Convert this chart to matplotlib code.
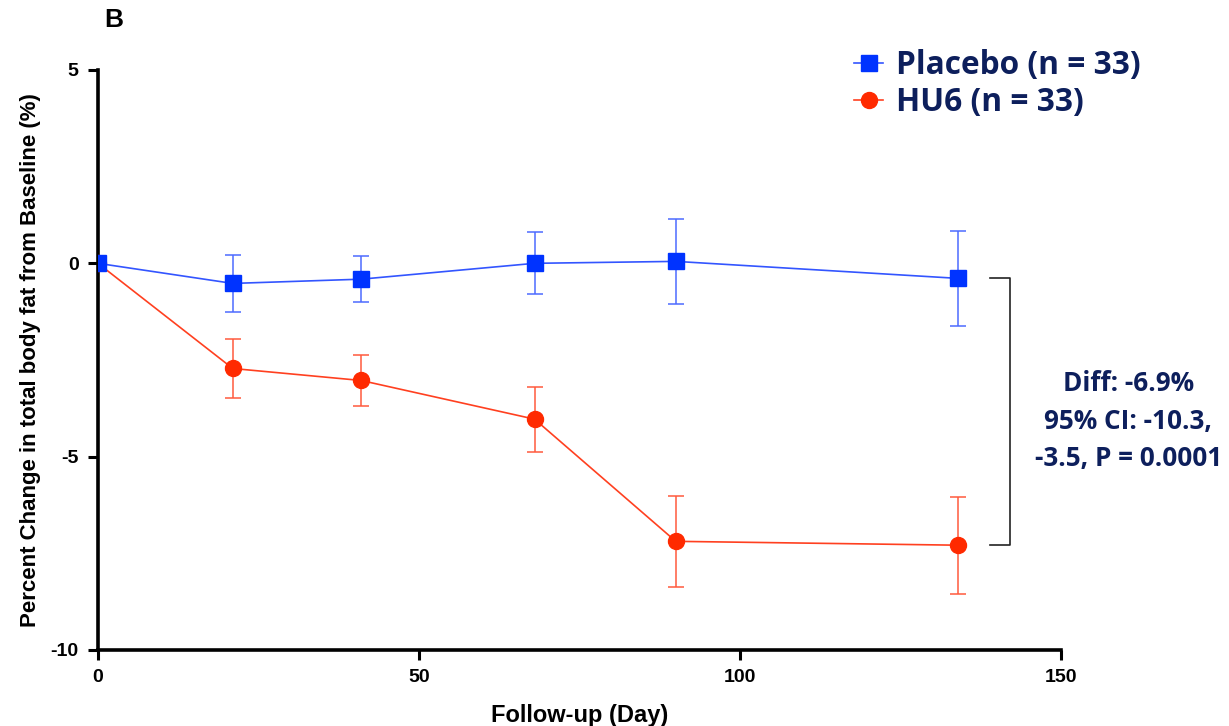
import numpy as np
import matplotlib.pyplot as plt
from matplotlib.lines import Line2D

# follow-up days
days = [0, 21, 41, 68, 90, 134]

# percent change in total body fat, mean and error
placebo_mean = [0.0, -0.52, -0.41, 0.0, 0.05, -0.39]
placebo_err = [0.0, 0.74, 0.60, 0.80, 1.10, 1.22]
hu6_mean = [0.0, -2.72, -3.03, -4.03, -7.19, -7.29]
hu6_err = [0.0, 0.76, 0.66, 0.84, 1.17, 1.25]

labels = ["Placebo (n = 33)", "HU6 (n = 33)"]
annot = "Diff: -6.9%\n95% CI: -10.3,\n-3.5, P = 0.0001"

blue = "#0033ff"
red = "#ff2a00"
navy = "#0d1f5c"
arial = "Liberation Sans"

fig = plt.figure(figsize=(12.29, 7.26), dpi=100)
ax = fig.add_axes([0.0797, 0.1047, 0.7836, 0.7989])

# error bars (drawn first so markers sit on top)
ax.errorbar(days, placebo_mean, yerr=placebo_err, fmt="none", ecolor="#4d6bff",
            elinewidth=1.1, capsize=5.8, capthick=1.1, zorder=2)
ax.errorbar(days, hu6_mean, yerr=hu6_err, fmt="none", ecolor="#ff5a3d",
            elinewidth=1.1, capsize=5.8, capthick=1.1, zorder=2)

ax.plot(days, hu6_mean, color="#ff4020", lw=1.2, marker="o", ms=11.5,
        mfc=red, mec=red, zorder=3)
ax.plot(days, placebo_mean, color="#3355ff", lw=1.2, marker="s", ms=11,
        mfc=blue, mec=blue, zorder=4)

ax.set_xlim(0, 150)
ax.set_ylim(-10, 5)
ax.set_xticks([0, 50, 100, 150])
ax.set_yticks([5, 0, -5, -10])
ax.set_yticklabels(["5", "0", "-5", "-10"])

for s in ["top", "right"]:
    ax.spines[s].set_visible(False)
for s in ["left", "bottom"]:
    ax.spines[s].set_linewidth(2.6)
ax.tick_params(width=2.2, length=7, labelsize=14, pad=7)
for t in ax.get_xticklabels() + ax.get_yticklabels():
    t.set_fontfamily(arial)
    t.set_fontweight("bold")

ax.set_xlabel("Follow-up (Day)", fontsize=17, fontweight="bold",
              fontfamily=arial, labelpad=13)
ax.set_ylabel("Percent Change in total body fat from Baseline (%)", fontsize=16,
              fontweight="bold", fontfamily=arial, labelpad=7)

# bracket between final values
bx0, bx1 = 139.0, 142.0
ax.plot([bx0, bx1, bx1, bx0], [placebo_mean[-1], placebo_mean[-1], hu6_mean[-1], hu6_mean[-1]],
        color="#222222", lw=1.2, clip_on=False)
fig.text(0.918, 0.42, annot, ha="center", va="center", fontsize=18.8,
         fontweight="bold", color=navy, fontfamily="Open Sans", linespacing=1.5)

# panel letter
fig.text(0.085, 0.972, "B", fontsize=19, fontweight="bold", fontfamily=arial,
         va="center")

handles = [
    Line2D([], [], color="#3355ff", lw=1.2, marker="s", ms=11, mfc=blue, mec=blue),
    Line2D([], [], color="#ff4020", lw=1.2, marker="o", ms=11.5, mfc=red, mec=red),
]
leg = fig.legend(handles, labels, loc="upper left", bbox_to_anchor=(0.672, 0.972),
                 frameon=False, handlelength=0.9, handletextpad=0.4,
                 labelspacing=0.12, prop={"family": "Open Sans", "weight": "bold", "size": 22.8})
for t in leg.get_texts():
    t.set_color(navy)

fig.savefig("out.png", dpi=100)
